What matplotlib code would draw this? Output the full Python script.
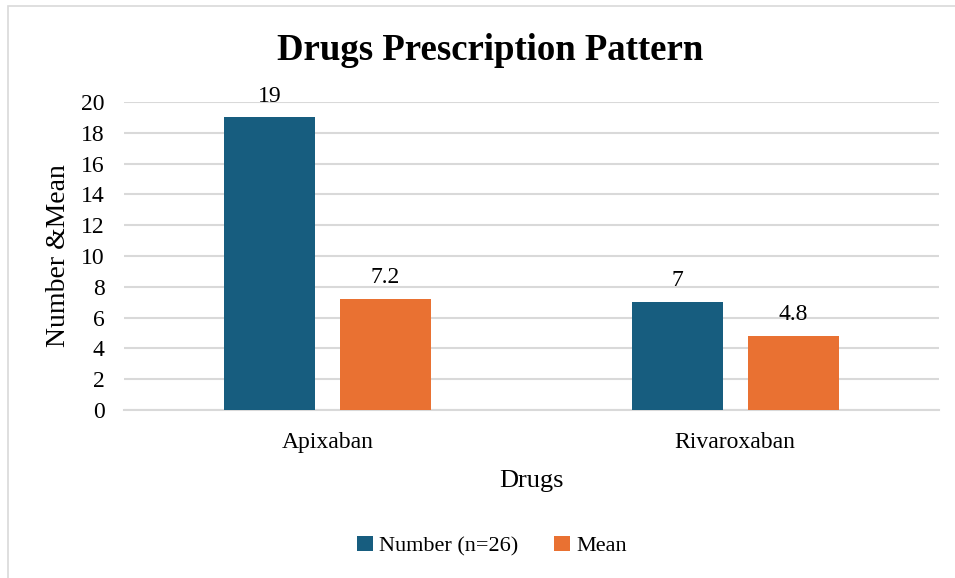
import matplotlib.pyplot as plt
import numpy as np
from matplotlib.patches import Rectangle

drugs = ["Apixaban", "Rivaroxaban"]
number = [19, 7]
mean = [7.2, 4.8]
series_names = ["Number (n=26)", "Mean"]
yticks = [0, 2, 4, 6, 8, 10, 12, 14, 16, 18, 20]

BLUE = "#175d7f"
ORANGE = "#e97132"
GRID = "#d9d9d9"

plt.rcParams['font.family'] = ['Liberation Serif', 'DejaVu Serif']

fig = plt.figure(figsize=(9.55, 5.78), dpi=100)
ax = fig.add_axes([124 / 955, 1 - 410 / 578, 815 / 955, 308 / 578])

# chart frame (only the top/left edges fall inside the canvas)
fig.patches.append(Rectangle((8 / 955, -0.1), 1.2, 1.1 - 6 / 578,
                             transform=fig.transFigure, fill=False,
                             edgecolor="#d9d9d9", linewidth=1.2))

x = np.arange(len(drugs))
w = 0.223
off = 0.142
b1 = ax.bar(x - off, number, w, color=BLUE, label=series_names[0], zorder=3)
b2 = ax.bar(x + off, mean, w, color=ORANGE, label=series_names[1], zorder=3)

for bars, vals in ((b1, number), (b2, mean)):
    for rect, v in zip(bars, vals):
        ax.text(rect.get_x() + rect.get_width() / 2, v + 0.7, f"{v:g}",
                ha="center", va="bottom", fontsize=17)

ax.set_xlim(-0.5, 1.5)
ax.set_ylim(0, 20)
ax.set_yticks(yticks)
ax.set_xticks(x)
ax.set_xticklabels(drugs)
ax.yaxis.grid(True, color=GRID, linewidth=1.5, zorder=0)
ax.set_axisbelow(True)
for s in ("top", "right", "left"):
    ax.spines[s].set_visible(False)
ax.spines["bottom"].set_color(GRID)
ax.spines["bottom"].set_linewidth(1.5)
ax.tick_params(axis="x", length=0, labelsize=17, pad=16)
ax.tick_params(axis="y", length=0, labelsize=17, pad=14)

ax.set_xlabel("Drugs", fontsize=19, labelpad=12)
ax.set_ylabel("Number &Mean", fontsize=20, labelpad=7)

fig.text(490 / 955, 1 - 50 / 578, "Drugs Prescription Pattern",
         ha="center", va="center", fontsize=26.5, fontweight="bold")

fig.legend(handles=[b1, b2], loc="center", bbox_to_anchor=(492 / 955, 1 - 546 / 578),
           ncol=2, frameon=False, fontsize=16, handlelength=0.7, handleheight=0.7,
           handletextpad=0.3, columnspacing=1.6)

fig.savefig("out.png", dpi=100)
